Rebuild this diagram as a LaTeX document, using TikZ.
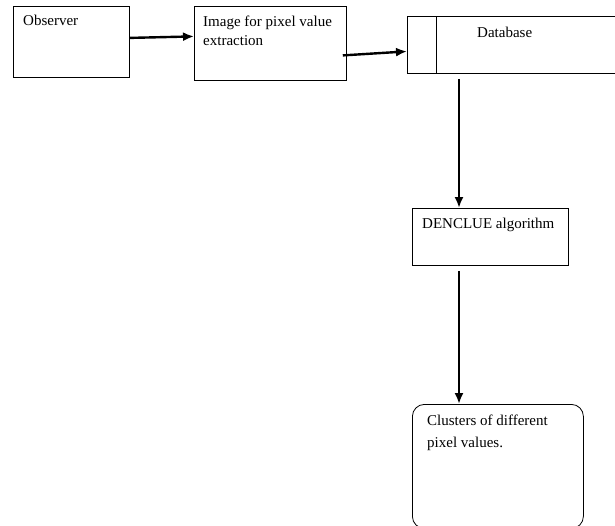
\documentclass[tikz,border=0pt]{standalone}
\usepackage{fontspec}
\setmainfont{Liberation Serif}
\usetikzlibrary{arrows.meta}

\begin{document}
\begin{tikzpicture}[x=1pt,y=-1pt]
    \tikzstyle{arrow} = [line width=2.4pt,-{Latex[length=11pt,width=9pt]}]
    \tikzstyle{box} = [draw,line width=0.8pt,inner sep=0pt,anchor=north west]
    \tikzstyle{txt} = [inner sep=0pt,align=left,font=\fontsize{15}{19}\selectfont]

    \useasboundingbox (0,0) rectangle (615,525);
    \clip (0,0) rectangle (615,525);

    % boxes
    \node[box,minimum width=116pt,minimum height=71pt] (obs) at (13,6) {};
    \node[box,minimum width=152pt,minimum height=74pt] (img) at (194,6) {};
    \node[box,minimum width=220pt,minimum height=57pt] (db) at (407,16) {};
    \node[box,minimum width=156pt,minimum height=57pt] (den) at (412,208) {};
    \node[box,rounded corners=12pt,minimum width=171pt,minimum height=124pt] (clu) at (412,404) {};

    \draw[line width=0.8pt] ([xshift=29pt]db.north west) -- ([xshift=29pt]db.south west);

    % texts
    \node[txt,anchor=base west] (obstxt) at (23,25) {Observer};
    \node[txt,anchor=north west] (imgtxt) at (203,16) {Image for pixel value\\extraction};
    \node[txt,anchor=base west] (dbtxt) at (477,37) {Database};
    \node[txt,anchor=base west] (dentxt) at (422,228) {DENCLUE algorithm};
    \node[txt,anchor=north west,font=\fontsize{15}{22}\selectfont] (clutxt) at (427,415) {Clusters of different\\pixel values.};

    % arrows
    \draw[arrow] ([yshift=4pt]obs.east) -- ([yshift=7pt]img.west);
    \draw[arrow] ([xshift=-4pt,yshift=-12pt]img.east) -- ([yshift=-6.5pt]db.west);
    \draw[arrow] ([xshift=52pt,yshift=-5pt]db.south west) -- ([xshift=47pt]den.north west);
    \draw[arrow] ([xshift=47pt,yshift=-5pt]den.south west) -- ([xshift=47pt]clu.north west);
\end{tikzpicture}
\end{document}
